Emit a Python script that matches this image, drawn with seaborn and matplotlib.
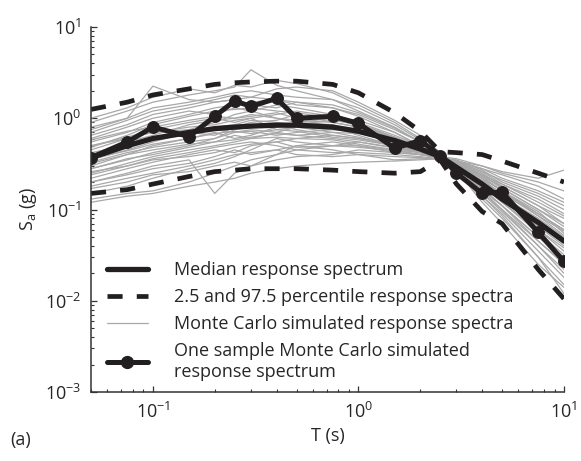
import numpy as np
import pandas as pd
import seaborn as sns
import matplotlib.pyplot as plt
from matplotlib.lines import Line2D
from matplotlib.ticker import LogLocator

# periods (s)
periods = [0.05, 0.075, 0.1, 0.15, 0.2, 0.25, 0.3, 0.4, 0.5, 0.75,
           1.0, 1.5, 2.0, 2.5, 3.0, 4.0, 5.0, 7.5, 10.0]

median_sa = [0.37, 0.50, 0.60, 0.70, 0.77, 0.80, 0.82, 0.84, 0.84, 0.80,
             0.72, 0.57, 0.46, 0.38, 0.29, 0.19, 0.13, 0.072, 0.045]
upper_sa = [1.25, 1.5, 1.8, 2.1, 2.35, 2.45, 2.5, 2.55, 2.55, 2.35,
            1.9, 1.15, 0.72, 0.43, 0.42, 0.40, 0.34, 0.25, 0.20]
lower_sa = [0.15, 0.165, 0.19, 0.23, 0.26, 0.27, 0.28, 0.28, 0.28, 0.27,
            0.26, 0.25, 0.26, 0.35, 0.19, 0.095, 0.07, 0.022, 0.0105]
sample_sa = [0.37, 0.55, 0.80, 0.63, 1.05, 1.55, 1.35, 1.65, 1.0, 1.05,
             0.88, 0.47, 0.57, 0.39, 0.25, 0.15, 0.155, 0.056, 0.027]

# Monte Carlo simulated spectra
sims = [
    [0.55, 0.70, 0.90, 1.10, 1.30, 1.40, 1.50, 1.60, 1.40, 1.30, 1.10, 0.75, 0.55, 0.40, 0.32, 0.22, 0.16, 0.090, 0.060],
    [0.25, 0.32, 0.38, 0.45, 0.50, 0.55, 0.60, 0.62, 0.60, 0.58, 0.52, 0.45, 0.40, 0.37, 0.33, 0.25, 0.18, 0.110, 0.080],
    [0.90, 1.20, 1.50, 1.80, 2.00, 2.20, 3.40, 2.30, 2.00, 1.60, 1.20, 0.80, 0.55, 0.41, 0.30, 0.18, 0.12, 0.060, 0.035],
    [0.13, 0.15, 0.16, 0.20, 0.25, 0.30, 0.35, 0.40, 0.45, 0.50, 0.50, 0.45, 0.42, 0.38, 0.36, 0.30, 0.25, 0.200, 0.160],
    [0.30, 0.40, 0.50, 0.60, 0.70, 0.60, 0.65, 0.80, 0.90, 1.00, 0.95, 0.70, 0.50, 0.38, 0.27, 0.15, 0.10, 0.040, 0.022],
    [0.45, 0.60, 0.70, 0.75, 0.90, 1.10, 1.20, 1.00, 0.90, 0.85, 0.70, 0.55, 0.45, 0.36, 0.30, 0.22, 0.14, 0.080, 0.050],
    [0.20, 0.25, 0.30, 0.35, 0.15, 0.25, 0.30, 0.40, 0.50, 0.55, 0.50, 0.42, 0.40, 0.37, 0.35, 0.27, 0.20, 0.140, 0.100],
    [0.70, 0.95, 1.20, 1.40, 1.60, 1.80, 1.70, 2.10, 2.20, 2.00, 1.50, 0.95, 0.65, 0.42, 0.28, 0.14, 0.09, 0.035, 0.018],
    [0.35, 0.45, 0.55, 0.70, 0.65, 0.80, 0.90, 0.95, 1.10, 0.90, 0.80, 0.62, 0.48, 0.39, 0.31, 0.20, 0.13, 0.065, 0.040],
    [0.18, 0.22, 0.25, 0.30, 0.35, 0.40, 0.42, 0.45, 0.50, 0.45, 0.40, 0.35, 0.36, 0.36, 0.34, 0.28, 0.24, 0.180, 0.130],
    [0.40, 0.55, 0.65, 0.85, 0.95, 1.00, 1.05, 1.15, 1.00, 0.80, 0.65, 0.50, 0.43, 0.37, 0.28, 0.17, 0.11, 0.050, 0.030],
    [0.28, 0.35, 0.42, 0.50, 0.60, 0.70, 0.75, 0.70, 0.65, 0.70, 0.68, 0.55, 0.45, 0.38, 0.30, 0.19, 0.14, 0.075, 0.048],
    [0.60, 0.80, 1.00, 1.20, 1.10, 1.30, 1.20, 1.40, 1.30, 1.10, 0.90, 0.65, 0.50, 0.39, 0.30, 0.16, 0.10, 0.045, 0.025],
    [0.22, 0.28, 0.33, 0.40, 0.45, 0.42, 0.50, 0.55, 0.60, 0.65, 0.60, 0.50, 0.43, 0.37, 0.33, 0.26, 0.19, 0.120, 0.085],
    [0.50, 0.62, 0.75, 0.90, 1.00, 0.90, 1.00, 0.75, 0.80, 0.75, 0.70, 0.58, 0.48, 0.38, 0.29, 0.18, 0.12, 0.055, 0.032],
    [0.15, 0.18, 0.22, 0.28, 0.32, 0.38, 0.45, 0.60, 0.55, 0.50, 0.55, 0.48, 0.42, 0.37, 0.30, 0.20, 0.15, 0.090, 0.060],
    [0.80, 1.00, 1.30, 1.50, 1.70, 1.90, 2.00, 1.80, 1.70, 1.60, 1.30, 0.85, 0.58, 0.40, 0.27, 0.13, 0.08, 0.030, 0.015],
    [0.33, 0.42, 0.48, 0.55, 0.60, 0.75, 0.80, 0.85, 0.75, 0.65, 0.60, 0.52, 0.44, 0.38, 0.32, 0.24, 0.17, 0.100, 0.065],
    [0.42, 0.50, 0.60, 0.65, 0.80, 0.85, 0.95, 0.90, 0.85, 0.95, 0.85, 0.62, 0.47, 0.38, 0.26, 0.14, 0.085, 0.030, 0.012],
    [0.26, 0.30, 0.36, 0.42, 0.48, 0.52, 0.55, 0.50, 0.45, 0.42, 0.42, 0.40, 0.38, 0.36, 0.34, 0.30, 0.26, 0.220, 0.270],
    [0.65, 0.85, 1.10, 1.30, 1.50, 1.60, 1.40, 1.30, 1.50, 1.40, 1.15, 0.78, 0.55, 0.40, 0.31, 0.20, 0.13, 0.060, 0.038],
    [0.20, 0.24, 0.28, 0.32, 0.38, 0.45, 0.40, 0.45, 0.40, 0.38, 0.40, 0.38, 0.37, 0.36, 0.33, 0.23, 0.18, 0.110, 0.070],
    [0.38, 0.48, 0.58, 0.68, 0.75, 0.70, 0.72, 0.65, 0.70, 0.75, 0.78, 0.60, 0.47, 0.38, 0.28, 0.16, 0.11, 0.050, 0.028],
    [0.48, 0.65, 0.85, 1.05, 1.20, 1.25, 1.30, 1.20, 1.15, 1.00, 0.82, 0.60, 0.47, 0.38, 0.29, 0.19, 0.14, 0.070, 0.045],
    [0.17, 0.20, 0.24, 0.26, 0.30, 0.33, 0.30, 0.35, 0.38, 0.40, 0.45, 0.42, 0.40, 0.37, 0.34, 0.26, 0.21, 0.150, 0.110],
    [0.32, 0.40, 0.45, 0.52, 0.55, 0.65, 0.60, 0.70, 0.80, 0.70, 0.62, 0.50, 0.42, 0.37, 0.31, 0.22, 0.16, 0.095, 0.055],
    [1.00, 1.30, 1.70, 2.10, 1.90, 2.30, 2.20, 2.60, 2.40, 1.90, 1.40, 0.90, 0.60, 0.41, 0.27, 0.12, 0.07, 0.025, 0.014],
    [0.24, 0.30, 0.35, 0.38, 0.42, 0.48, 0.52, 0.55, 0.48, 0.50, 0.48, 0.44, 0.40, 0.37, 0.34, 0.28, 0.22, 0.160, 0.120],
    [0.58, 0.72, 0.80, 0.95, 1.05, 1.00, 1.10, 1.00, 0.95, 0.90, 0.80, 0.62, 0.48, 0.38, 0.30, 0.21, 0.15, 0.085, 0.058],
    [0.36, 0.44, 0.52, 0.60, 0.68, 0.72, 0.68, 0.75, 0.72, 0.62, 0.58, 0.50, 0.44, 0.37, 0.32, 0.23, 0.16, 0.085, 0.052],
    [0.12, 0.14, 0.15, 0.18, 0.20, 0.22, 0.25, 0.28, 0.30, 0.32, 0.33, 0.34, 0.35, 0.36, 0.31, 0.24, 0.19, 0.130, 0.090],
    [0.75, 1.00, 2.25, 1.60, 1.50, 1.60, 1.70, 1.60, 1.50, 1.30, 1.05, 0.70, 0.50, 0.39, 0.29, 0.17, 0.11, 0.045, 0.026],
    [0.28, 0.36, 0.40, 0.48, 0.55, 0.58, 0.62, 0.68, 0.65, 0.60, 0.55, 0.47, 0.42, 0.37, 0.33, 0.24, 0.17, 0.100, 0.070],
    [0.50, 0.60, 0.70, 0.80, 0.85, 0.95, 1.00, 1.10, 1.20, 1.05, 0.88, 0.62, 0.48, 0.38, 0.28, 0.15, 0.095, 0.040, 0.020],
]

labels = ["Median response spectrum",
          "2.5 and 97.5 percentile response spectra",
          "Monte Carlo simulated response spectra",
          "One sample Monte Carlo simulated\nresponse spectrum"]

sns.set_style("ticks")
plt.rcParams['font.family'] = ['Open Sans', 'DejaVu Sans']
plt.rcParams['mathtext.fontset'] = 'custom'
plt.rcParams['mathtext.rm'] = 'Open Sans'
plt.rcParams['mathtext.it'] = 'Open Sans:italic'

black = '#231f20'
gray = '#a8a8a8'

sim_df = pd.DataFrame([
    {"T": t, "Sa": v, "run": i}
    for i, row in enumerate(sims) for t, v in zip(periods, row)
])

fig = plt.figure(figsize=(5.81, 4.61), dpi=100)
ax = fig.add_axes([0.1566, 0.1497, 0.8141, 0.7917])

sns.lineplot(data=sim_df, x="T", y="Sa", units="run", estimator=None,
             color=gray, lw=0.9, ax=ax, legend=False)
dash = (0, (3.2, 3.0))
sns.lineplot(x=periods, y=upper_sa, color=black, lw=3.4, linestyle=dash, ax=ax)
sns.lineplot(x=periods, y=lower_sa, color=black, lw=3.4, linestyle=dash, ax=ax)
sns.lineplot(x=periods, y=median_sa, color=black, lw=3.8, ax=ax)
sns.lineplot(x=periods, y=sample_sa, color=black, lw=3.6, marker='o',
             markersize=8.5, markeredgecolor=black, ax=ax)

ax.set_xscale('log')
ax.set_yscale('log')
ax.set_xlim(0.05, 10)
ax.set_ylim(1e-3, 10)
ax.yaxis.set_major_locator(LogLocator(base=10, numticks=10))
ax.yaxis.set_minor_locator(LogLocator(base=10, subs=np.arange(2, 10), numticks=10))

sns.despine(ax=ax)
for s in ['left', 'bottom']:
    ax.spines[s].set_linewidth(1.1)
    ax.spines[s].set_color('#333333')
ax.tick_params(which='major', direction='in', length=4, width=0.9,
               labelsize=13, pad=7, color='#333333')
ax.tick_params(which='minor', direction='in', length=2.2, width=0.8, color='#333333')

ax.set_xlabel("T (s)", fontsize=13, labelpad=4)
ax.set_ylabel(r"S$_\mathregular{a}$ (g)", fontsize=13, labelpad=4)

handles = [
    Line2D([], [], color=black, lw=3.8),
    Line2D([], [], color=black, lw=3.4, linestyle=dash),
    Line2D([], [], color=gray, lw=0.9),
    Line2D([], [], color=black, lw=3.6, marker='o', markersize=8.5),
]
ax.legend(handles, labels, loc='lower left', bbox_to_anchor=(0.033, 0.03),
          frameon=False, fontsize=13, handlelength=2.3, handletextpad=1.45,
          labelspacing=0.5, borderpad=0, borderaxespad=0)

fig.text(0.018, 0.035, "(a)", fontsize=13)

plt.savefig("out.png", dpi=100)
